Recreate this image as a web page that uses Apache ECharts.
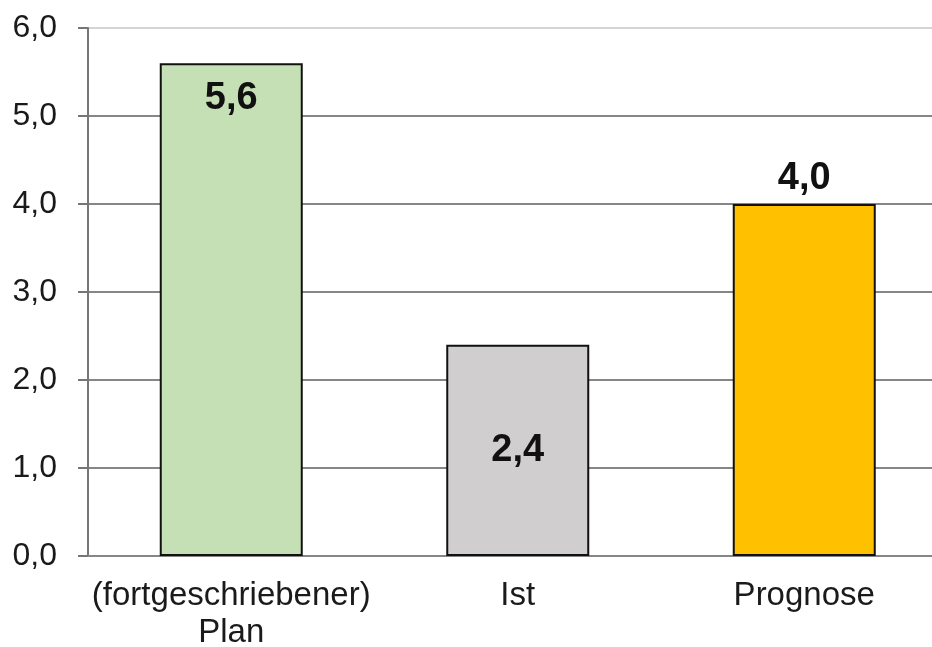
<!DOCTYPE html>
<html><head><meta charset="utf-8">
<script src="https://cdn.jsdelivr.net/npm/echarts@6/dist/echarts.min.js"></script>
<style>html,body{margin:0;padding:0;background:#fff}#c{width:932px;height:647px}</style>
</head><body><div id="c"></div>
<script>
var categories = ['(fortgeschriebener)\nPlan', 'Ist', 'Prognose'];
var values = [5.6, 2.4, 4.0];
var barColors = ['#C5E0B4', '#D0CECE', '#FFC000'];
var labelPositions = ['insideTop', 'inside', 'top'];
var labelDistances = [16, 5, 6];
var yTicks = [0, 1, 2, 3, 4, 5, 6];

function fmt(v){ return Number(v).toFixed(1).replace('.', ','); }

// category slot width in px in the original (plot area is partly cropped on the right)
var SLOT = 286.5, GRID_LEFT = 88, PLOT_W = 932 - GRID_LEFT;
var catIdx = categories.map(function(c, i){ return i; });

var data = values.map(function(v, i){
  return {
    value: [catIdx[i], v],
    itemStyle: {color: barColors[i]},
    label: {position: labelPositions[i], distance: labelDistances[i]}
  };
});

var chart = echarts.init(document.getElementById('c'), null, {renderer:'canvas'});
chart.setOption({
  animation: false,
  backgroundColor: '#fff',
  textStyle: {fontFamily: 'Liberation Sans, Arial, sans-serif'},
  grid: {left: GRID_LEFT, right: 0, top: 28, bottom: 91, containLabel: false, outerBoundsMode: 'none'},
  xAxis: {
    type: 'value',
    min: -0.5, max: -0.5 + PLOT_W / SLOT,
    splitLine: {show: false},
    axisLine: {show: true, onZero: false, lineStyle: {color: '#868686', width: 2}},
    axisTick: {show: false},
    axisLabel: {
      customValues: catIdx,
      formatter: function(v){ return categories[Math.round(v)]; },
      color: '#1a1a1a', fontSize: 33, lineHeight: 37, margin: 21,
      fontFamily: 'Liberation Sans, Arial, sans-serif'
    }
  },
  yAxis: {
    type: 'value',
    min: yTicks[0], max: yTicks[yTicks.length-1], interval: 1,
    axisLine: {show: true, onZero: false, lineStyle: {color: '#767676', width: 2}},
    axisTick: {show: true, length: 10, lineStyle: {color: '#767676', width: 2}},
    axisLabel: {color: '#1a1a1a', fontSize: 32, margin: 31, formatter: fmt, fontFamily: 'Liberation Sans, Arial, sans-serif'},
    splitLine: {show: true, lineStyle: {color: ['#868686','#868686','#868686','#868686','#868686','#868686','#d4d4d4'], width: 2}}
  },
  series: [{
    type: 'bar',
    data: data,
    barWidth: 143,
    itemStyle: {borderColor: '#111', borderWidth: 2},
    label: {show: true, color: '#111', fontWeight: 'bold', fontSize: 38, formatter: function(p){ return fmt(p.value[1]); }, fontFamily: 'Liberation Sans, Arial, sans-serif'}
  }]
});
</script></body></html>
